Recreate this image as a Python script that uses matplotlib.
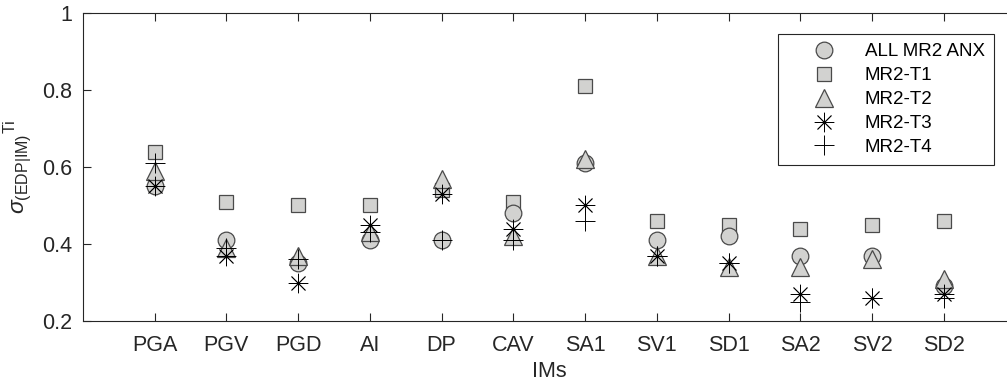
import matplotlib
matplotlib.use("Agg")
import matplotlib.pyplot as plt

plt.rcParams['font.family'] = ['Liberation Sans', 'DejaVu Sans']
plt.rcParams['mathtext.fontset'] = 'custom'
plt.rcParams['mathtext.rm'] = 'Liberation Sans'
plt.rcParams['mathtext.it'] = 'Liberation Sans:italic'

# data
ims = ['PGA', 'PGV', 'PGD', 'AI', 'DP', 'CAV', 'SA1', 'SV1', 'SD1', 'SA2', 'SV2', 'SD2']
all_mr2 = [0.55, 0.41, 0.35, 0.41, 0.41, 0.48, 0.61, 0.41, 0.42, 0.37, 0.37, 0.29]
mr2_t1 = [0.64, 0.51, 0.50, 0.50, 0.54, 0.51, 0.81, 0.46, 0.45, 0.44, 0.45, 0.46]
mr2_t2 = [0.59, 0.39, 0.37, 0.43, 0.57, 0.42, 0.62, 0.37, 0.34, 0.34, 0.36, 0.31]
mr2_t3 = [0.55, 0.37, 0.30, 0.45, 0.53, 0.44, 0.50, 0.37, 0.35, 0.27, 0.26, 0.27]
mr2_t4 = [0.61, 0.39, 0.36, 0.43, 0.41, 0.41, 0.46, 0.37, 0.35, 0.25, 0.26, 0.26]
yticks = [0.2, 0.4, 0.6, 0.8, 1.0]
ytick_labels = ['0.2', '0.4', '0.6', '0.8', '1']

face = '#d2d2d0'
edge = '#4a4a4a'
dark = '#262626'

fig = plt.figure(figsize=(10.07, 3.87), dpi=100)
ax = fig.add_axes([0.0824, 0.1705, 0.926, 0.796])

x = list(range(1, len(ims) + 1))
ax.plot(x, mr2_t1, linestyle='none', marker='s', markersize=10, mfc=face, mec=edge, mew=0.9, zorder=2, label='MR2-T1')
ax.plot(x, all_mr2, linestyle='none', marker='o', markersize=12, mfc=face, mec=edge, mew=0.9, zorder=3, label='ALL MR2 ANX')
ax.plot(x, mr2_t2, linestyle='none', marker='^', markersize=13.5, mfc=face, mec=edge, mew=0.9, zorder=4, label='MR2-T2')
ax.plot(x, mr2_t3, linestyle='none', marker=(8, 2, 0), markersize=14, mec='black', mew=0.6, zorder=5, label='MR2-T3')
ax.plot(x, mr2_t4, linestyle='none', marker='+', markersize=15, mec='black', mew=0.7, zorder=6, label='MR2-T4')

ax.set_xlim(0, len(ims) + 1)
ax.set_ylim(0.2, 1.0)
ax.set_xticks(x)
ax.set_xticklabels(ims)
ax.set_yticks(yticks)
ax.set_yticklabels(ytick_labels)
ax.tick_params(direction='in', length=6, width=0.8, color=dark, labelcolor=dark,
               labelsize=15.5, top=True, right=True)
ax.tick_params(axis='y', pad=8)
ax.tick_params(axis='x', pad=10)
for s in ax.spines.values():
    s.set_color(dark)
    s.set_linewidth(0.8)

ax.set_xlabel('IMs', fontsize=15.5, color=dark, labelpad=4)
ax.set_ylabel(r'$\sigma_{\mathrm{(EDP|IM)}}{}^{\mathrm{Ti}}$', fontsize=16.5, color=dark)
ax.yaxis.set_label_coords(-0.052, 0.5)

h, l = ax.get_legend_handles_labels()
order = [1, 0, 2, 3, 4]
leg = ax.legend([h[i] for i in order], [l[i] for i in order], loc='upper right',
                bbox_to_anchor=(994 / 1007, 1 - 34 / 387), bbox_transform=fig.transFigure,
                borderaxespad=0, fancybox=False, fontsize=13.5, handlelength=3.9,
                handletextpad=0.2, labelspacing=0.36, borderpad=0.5, framealpha=1)
leg.get_frame().set_edgecolor(dark)
leg.get_frame().set_linewidth(0.8)
for t in leg.get_texts():
    t.set_color('black')

fig.savefig('out.png', dpi=100)
